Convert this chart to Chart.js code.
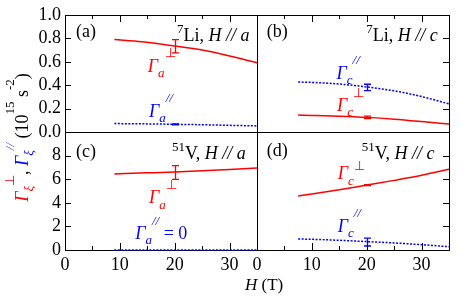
<!DOCTYPE html>
<html>
<head>
<meta charset="utf-8">
<script src="https://cdn.jsdelivr.net/npm/chart.js@4.4.1/dist/chart.umd.min.js"></script>
<style>
  body { margin: 0; background: #fff; }
  #wrap { position: relative; width: 463px; height: 296px; }
  #wrap canvas { position: absolute; left: 0; top: 0; }
</style>
</head>
<body>
<div id="wrap">
  <canvas id="pa" width="463" height="296"></canvas>
  <canvas id="pb" width="463" height="296"></canvas>
  <canvas id="pc" width="463" height="296"></canvas>
  <canvas id="pd" width="463" height="296"></canvas>
</div>
<script>
// =====================================================
// DATOS (H en T, Gamma en 10^15 s^-2 o unidades del panel)
// =====================================================

// (a) 7Li, H // a
const hLiA    = [9, 14, 20, 25, 30, 35];
const liAPerp = [0.79, 0.772, 0.735, 0.70, 0.65, 0.592];
const liAPar  = [0.072, 0.070, 0.066, 0.062, 0.057, 0.052];

// (b) 7Li, H // c
const hLiC    = [7.5, 10, 15, 20, 25, 30, 35];
const liCPar  = [0.427, 0.424, 0.41, 0.385, 0.352, 0.303, 0.24];
const liCPerp = [0.145, 0.142, 0.135, 0.125, 0.11, 0.09, 0.068];

// (c) 51V, H // a
const hVA    = [9, 15, 20, 25, 30, 35];
const vAPerp = [6.45, 6.54, 6.62, 6.72, 6.83, 6.95];
const vAPar  = [0, 0, 0, 0, 0, 0];

// (d) 51V, H // c
const hVC    = [7.5, 10, 15, 20, 25, 30, 35];
const vCPerp = [4.58, 4.74, 5.1, 5.5, 5.9, 6.33, 6.84];
const vCPar  = [0.93, 0.91, 0.82, 0.71, 0.6, 0.45, 0.28];

// barras de error en H = 20 T : [valor, semiancho]
const errH       = 20;
const errLiAPerp = [0.733, 0.057];
const errLiAPar  = [0.066, 0.004];
const errLiCPar  = [0.381, 0.027];
const errLiCPerp = [0.125, 0.01];
const errVAPerp  = [6.57, 0.58];
const errVCPerp  = [5.5, 0.04];
const errVCPar   = [0.67, 0.33];

// etiquetas de ejes
const xLabels       = ['0', '', '10', '', '20', '', '30', ''];
const yLabelsTop    = ['0.0', '0.2', '0.4', '0.6', '0.8', '1.0'];
const yLabelsBottom = ['0', '2', '4', '6', '8', ''];

// =====================================================
// ESTILO
// =====================================================

const SERIF = '"Liberation Serif", "Times New Roman", serif';
const RED = '#ff0000';
const BLUE = '#0000ff';
const BLACK = '#000000';

Chart.defaults.font.family = SERIF;
Chart.defaults.color = BLACK;

// =====================================================
// TEXTO CON SUB/SUPERINDICES
// =====================================================

function partFont(kind, size) {
  const small = kind !== 'n' && kind !== 'i';
  const s = small ? Math.round(size * 0.7) : size;
  const it = kind === 'i' || kind === 'sub' || kind === 'hii';
  return (it ? 'italic ' : '') + s + 'px ' + SERIF;
}

function partShift(kind, size, hi) {
  if (kind === 'sub') return size * 0.3;
  if (kind === 'sup') return -size * 0.45;
  if (kind === 'hi' || kind === 'hii') return -size * (hi || 0.8);
  return 0;
}

function measureRich(ctx, parts, size) {
  let w = 0;
  parts.forEach(([t, kind]) => {
    ctx.font = partFont(kind, size);
    w += ctx.measureText(t).width;
  });
  return w;
}

function drawRich(ctx, x, y, parts, size, hi) {
  let cx = x;
  ctx.textBaseline = 'alphabetic';
  ctx.textAlign = 'left';
  parts.forEach(([t, kind, color]) => {
    ctx.font = partFont(kind, size);
    ctx.fillStyle = color;
    ctx.fillText(t, cx, y + partShift(kind, size, hi));
    cx += ctx.measureText(t).width;
  });
}

// =====================================================
// PLUGINS
// =====================================================

// marco y ticks hacia adentro
const framePlugin = {
  id: 'frame',
  beforeDatasetsDraw(chart, args, opts) {
    const { ctx, chartArea: a, scales: { x, y } } = chart;
    ctx.save();
    ctx.strokeStyle = BLACK;
    ctx.lineWidth = 1;
    ctx.strokeRect(a.left + 0.5, a.top + 0.5, a.width, a.height);
    ctx.beginPath();
    x.ticks.forEach(t => {
      const px = Math.round(x.getPixelForValue(t.value)) + 0.5;
      const len = t.value % 10 === 0 ? 7 : 4;
      if (opts.top) { ctx.moveTo(px, a.top); ctx.lineTo(px, a.top + len); }
      if (opts.bottom) { ctx.moveTo(px, a.bottom); ctx.lineTo(px, a.bottom - len); }
    });
    y.ticks.forEach(t => {
      const py = Math.round(y.getPixelForValue(t.value)) + 0.5;
      if (opts.left) { ctx.moveTo(a.left, py); ctx.lineTo(a.left + 6, py); }
      if (opts.right) { ctx.moveTo(a.right, py); ctx.lineTo(a.right - 6, py); }
    });
    ctx.stroke();
    ctx.restore();
  }
};

// barras de error
const errorBarPlugin = {
  id: 'errbars',
  afterDatasetsDraw(chart) {
    const { ctx, scales: { x, y } } = chart;
    ctx.save();
    chart.data.datasets.forEach(ds => {
      if (!ds.err) return;
      ctx.strokeStyle = ds.borderColor;
      ctx.lineWidth = 1.3;
      ds.data.forEach((p, i) => {
        const px = Math.round(x.getPixelForValue(p.x)) + 0.5;
        const y1 = y.getPixelForValue(p.y - ds.err[i]);
        const y2 = y.getPixelForValue(p.y + ds.err[i]);
        ctx.beginPath();
        ctx.moveTo(px, y1); ctx.lineTo(px, y2);
        ctx.moveTo(px - 3.5, y1); ctx.lineTo(px + 3.5, y1);
        ctx.moveTo(px - 3.5, y2); ctx.lineTo(px + 3.5, y2);
        ctx.stroke();
      });
    });
    ctx.restore();
  }
};

// etiquetas dentro de los paneles (coordenadas de datos)
const richPlugin = {
  id: 'rich',
  afterDraw(chart, args, opts) {
    const { ctx, scales: { x, y } } = chart;
    ctx.save();
    (opts.items || []).forEach(it => {
      drawRich(ctx, x.getPixelForValue(it.x), y.getPixelForValue(it.y), it.parts, it.size, it.hi);
    });
    ctx.restore();
  }
};

// titulos de ejes (solo en el panel c)
const titlesPlugin = {
  id: 'titles',
  afterDraw(chart) {
    const { ctx } = chart;
    ctx.save();
    const yParts = [
      ['Γ', 'i', RED], ['ξ', 'sub', RED], ['⊥', 'hi', RED],
      [', ', 'n', BLACK],
      ['Γ', 'i', BLUE], ['ξ', 'sub', BLUE], ['//', 'hii', BLUE],
      [' (10', 'n', BLACK], ['15', 'hi', BLACK], [' s', 'n', BLACK], ['-2', 'hi', BLACK], [')', 'n', BLACK]
    ];
    const w = measureRich(ctx, yParts, 18);
    ctx.translate(28, 137.5);
    ctx.rotate(-Math.PI / 2);
    drawRich(ctx, -w / 2, 0, yParts, 18);
    ctx.restore();

    ctx.save();
    drawRich(ctx, 245, 290, [['H', 'i', BLACK], [' (T)', 'n', BLACK]], 17);
    ctx.restore();
  }
};

// =====================================================
// DATASETS
// =====================================================

function curve(hs, vals, color, dotted) {
  return {
    data: hs.map((h, i) => ({ x: h, y: vals[i] })),
    borderColor: color,
    borderWidth: 1.5,
    borderDash: dotted ? [2, 1.5] : [],
    pointRadius: 0,
    cubicInterpolationMode: 'monotone',
    fill: false,
    clip: false
  };
}

function errPoint(e, color) {
  return {
    data: [{ x: errH, y: e[0] }],
    err: [e[1]],
    borderColor: color,
    showLine: false,
    pointRadius: 0,
    clip: false
  };
}

// =====================================================
// PANELES
// =====================================================

function makePanel(id, o) {
  const left = o.col === 0 ? 65 : 257;
  const right = o.col === 0 ? 257 : 449;
  const top = o.row === 0 ? 15 : 132;
  const bottom = o.row === 0 ? 132 : 250;
  const yW = o.col === 0 ? 40 : 0;
  const xH = o.row === 1 ? 30 : 0;

  return new Chart(document.getElementById(id), {
    type: 'line',
    data: { datasets: o.datasets },
    plugins: [framePlugin, errorBarPlugin, richPlugin].concat(o.extra || []),
    options: {
      responsive: false,
      animation: false,
      events: [],
      layout: { padding: { left: left - yW, right: 463 - right, top: top, bottom: 296 - bottom - xH } },
      plugins: {
        legend: { display: false },
        tooltip: { enabled: false },
        frame: { top: o.row === 0, bottom: o.row === 1, left: o.col === 0, right: o.col === 1 },
        rich: { items: o.items }
      },
      scales: {
        x: {
          type: 'linear', min: 0, max: 35,
          afterFit: s => { s.height = xH; },
          grid: { display: false, drawTicks: false },
          border: { display: false },
          ticks: {
            display: o.row === 1, stepSize: 5, autoSkip: false, maxRotation: 0,
            padding: 4, color: BLACK, font: { family: SERIF, size: 18 },
            callback: (v, i) => xLabels[i]
          }
        },
        y: {
          type: 'linear', min: 0, max: o.yMax,
          afterFit: s => { s.width = yW; },
          grid: { display: false, drawTicks: false },
          border: { display: false },
          ticks: {
            display: o.col === 0, stepSize: o.yMax / 5, autoSkip: false,
            padding: 4, color: BLACK, font: { family: SERIF, size: 18 },
            callback: (v, i) => o.yLabels[i]
          }
        }
      }
    }
  });
}

// (a)
makePanel('pa', {
  col: 0, row: 0, yMax: 1, yLabels: yLabelsTop,
  datasets: [
    curve(hLiA, liAPerp, RED, false),
    curve(hLiA, liAPar, BLUE, true),
    errPoint(errLiAPerp, RED),
    errPoint(errLiAPar, BLUE)
  ],
  items: [
    { x: 2.0, y: 0.814, size: 18, parts: [['(a)', 'n', BLACK]] },
    { x: 20.4, y: 0.778, size: 18, parts: [['7', 'sup', BLACK], ['Li, ', 'n', BLACK], ['H // a', 'i', BLACK]] },
    { x: 15.1, y: 0.514, size: 18, parts: [['Γ', 'i', RED], ['a', 'sub', RED], ['⊥', 'hi', RED]] },
    { x: 15.3, y: 0.13, size: 18, parts: [['Γ', 'i', BLUE], ['a', 'sub', BLUE], ['//', 'hii', BLUE]] }
  ]
});

// (b)
makePanel('pb', {
  col: 1, row: 0, yMax: 1, yLabels: yLabelsTop,
  datasets: [
    curve(hLiC, liCPar, BLUE, true),
    curve(hLiC, liCPerp, RED, false),
    errPoint(errLiCPar, BLUE),
    errPoint(errLiCPerp, RED)
  ],
  items: [
    { x: 1.8, y: 0.814, size: 18, parts: [['(b)', 'n', BLACK]] },
    { x: 19.9, y: 0.778, size: 18, parts: [['7', 'sup', BLACK], ['Li, ', 'n', BLACK], ['H // c', 'i', BLACK]] },
    { x: 14.5, y: 0.457, size: 18, parts: [['Γ', 'i', BLUE], ['c', 'sub', BLUE], ['//', 'hii', BLUE]] },
    { x: 14.6, y: 0.179, size: 18, parts: [['Γ', 'i', RED], ['c', 'sub', RED], ['⊥', 'hi', RED]] }
  ]
});

// (c)
makePanel('pc', {
  col: 0, row: 1, yMax: 10, yLabels: yLabelsBottom,
  datasets: [
    curve(hVA, vAPerp, RED, false),
    curve(hVA, vAPar, BLUE, true),
    errPoint(errVAPerp, RED)
  ],
  items: [
    { x: 2.0, y: 7.88, size: 18, parts: [['(c)', 'n', BLACK]] },
    { x: 19.5, y: 7.7, size: 18, parts: [['51', 'sup', BLACK], ['V, ', 'n', BLACK], ['H // a', 'i', BLACK]] },
    { x: 15.3, y: 3.96, size: 18, parts: [['Γ', 'i', RED], ['a', 'sub', RED], ['⊥', 'hi', RED]] },
    { x: 12.8, y: 0.93, size: 18, parts: [['Γ', 'i', BLUE], ['a', 'sub', BLUE], ['//', 'hii', BLUE], [' = 0', 'n', BLUE]] }
  ],
  extra: [titlesPlugin]
});

// (d)
makePanel('pd', {
  col: 1, row: 1, yMax: 10, yLabels: yLabelsBottom,
  datasets: [
    curve(hVC, vCPerp, RED, false),
    curve(hVC, vCPar, BLUE, true),
    errPoint(errVCPerp, RED),
    errPoint(errVCPar, BLUE)
  ],
  items: [
    { x: 1.8, y: 7.95, size: 18, parts: [['(d)', 'n', BLACK]] },
    { x: 19.1, y: 7.7, size: 18, parts: [['51', 'sup', BLACK], ['V, ', 'n', BLACK], ['H // c', 'i', BLACK]] },
    { x: 14.7, y: 6.0, size: 18, hi: 0.5, parts: [['Γ', 'i', RED], ['c', 'sub', RED], ['⊥', 'hi', RED]] },
    { x: 14.7, y: 1.55, size: 18, parts: [['Γ', 'i', BLUE], ['c', 'sub', BLUE], ['//', 'hii', BLUE]] }
  ]
});
</script>
</body>
</html>
